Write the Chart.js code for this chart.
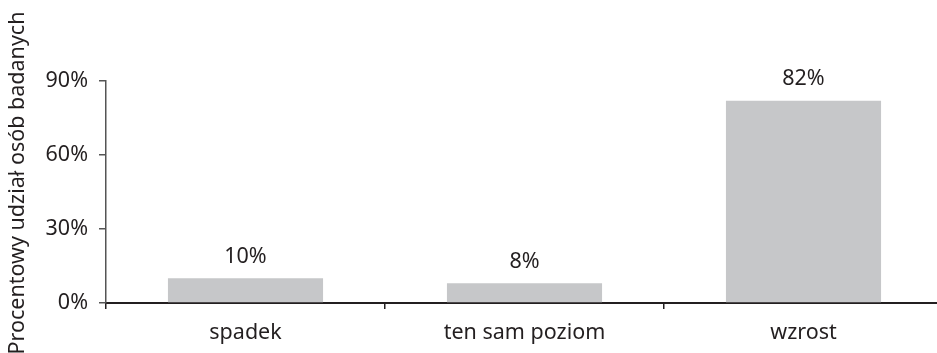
<!DOCTYPE html>
<html>
<head>
<meta charset="utf-8">
<script src="https://cdn.jsdelivr.net/npm/chart.js@4/dist/chart.umd.min.js"></script>
<style>
  html, body { margin: 0; padding: 0; background: #fff; overflow: hidden; }
  #wrap { width: 937px; height: 353px; overflow: hidden; position: relative; }
  #wrap canvas { position: absolute; left: 0; top: 0; }
</style>
</head>
<body>
<div id="wrap"><canvas id="myChart" width="944" height="353"></canvas></div>
<script>
// dane z wykresu
var categories = ["spadek", "ten sam poziom", "wzrost"];
var shares = [10, 8, 82];
var yTicks = [0, 30, 60, 90];
var yTitle = "Procentowy udział osób badanych";

var textColor = "#231f20";
var fontFamily = "'Noto Sans', 'Open Sans', sans-serif";

// etykiety nad słupkami + tytuł osi Y (przesunięty jak w oryginale)
var valueLabels = {
    id: "valueLabels",
    afterDatasetsDraw(chart) {
        var ctx = chart.ctx;
        var meta = chart.getDatasetMeta(0);
        ctx.save();
        ctx.font = "21.5px " + fontFamily;
        ctx.fillStyle = textColor;
        ctx.textAlign = "center";
        ctx.textBaseline = "bottom";
        meta.data.forEach(function (bar, i) {
            ctx.fillText(shares[i] + "%", bar.x, bar.y - 11);
        });
        ctx.restore();

        ctx.save();
        ctx.font = "21.5px " + fontFamily;
        ctx.fillStyle = textColor;
        ctx.textAlign = "center";
        ctx.textBaseline = "middle";
        ctx.translate(18, 183);
        ctx.rotate(-Math.PI / 2);
        ctx.fillText(yTitle, 0, 0);
        ctx.restore();
    }
};

var ctx = document.getElementById("myChart");
var chart = new Chart(ctx, {
    type: "bar",
    data: {
        labels: categories,
        datasets: [{
            data: shares,
            backgroundColor: "#c6c7c9",
            borderWidth: 0,
            categoryPercentage: 1,
            barPercentage: 0.556
        }]
    },
    options: {
        responsive: false,
        animation: false,
        layout: { padding: { top: 81, right: 1, left: 0, bottom: 0 } },
        plugins: {
            legend: { display: false },
            tooltip: { enabled: false }
        },
        scales: {
            x: {
                grid: {
                    offset: true,
                    drawOnChartArea: false,
                    drawTicks: true,
                    tickLength: 6,
                    color: "#231f20",
                    lineWidth: 1.5
                },
                border: { color: "#231f20", width: 2 },
                ticks: {
                    color: textColor,
                    font: { family: fontFamily, size: 21.5 },
                    padding: 11
                },
                afterFit: function (scale) { scale.height = 50; }
            },
            y: {
                min: 0,
                max: 90,
                afterBuildTicks: function (scale) {
                    scale.ticks = yTicks.map(function (v) { return { value: v }; });
                },
                grid: {
                    drawOnChartArea: false,
                    drawTicks: true,
                    tickLength: 7,
                    color: "#555",
                    lineWidth: 1.5
                },
                border: { color: "#555", width: 1.5 },
                ticks: {
                    color: textColor,
                    font: { family: fontFamily, size: 21.5 },
                    padding: 11,
                    callback: function (v) { return v + "%"; }
                },
                afterFit: function (scale) { scale.width = 106; }
            }
        }
    },
    plugins: [valueLabels]
});
</script>
</body>
</html>
